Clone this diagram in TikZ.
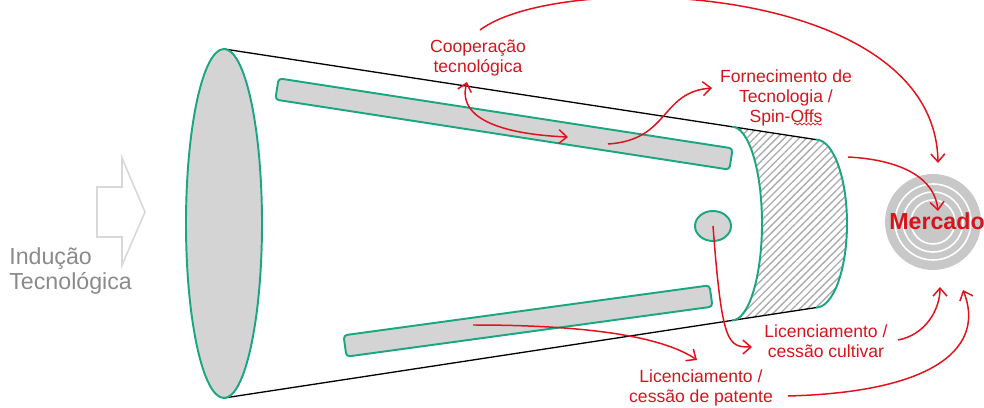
\documentclass[tikz,border=0pt]{standalone}
\usepackage{fontspec}
\setmainfont{Liberation Sans}
\usepackage{tikz}
\usetikzlibrary{arrows.meta,patterns.meta,decorations.pathmorphing,shapes.geometric}
\definecolor{conegreen}{RGB}{26,166,126}
\definecolor{conegray}{RGB}{212,212,212}
\definecolor{flowred}{RGB}{226,18,28}
\definecolor{labelred}{RGB}{214,20,28}
\definecolor{ringgray}{RGB}{200,200,200}
\definecolor{hatchgray}{RGB}{170,170,170}
\definecolor{softgray}{RGB}{138,138,138}
\definecolor{arrowgray}{RGB}{216,216,216}
\tikzset{
  face-line/.style={draw=conegreen, line width=1.1pt},
  cone-edge/.style={draw=black, line width=0.75pt},
  bar-node/.style={face-line, fill=conegray, rounded corners=2pt, inner sep=0pt,
    minimum height=0.43cm},
  flow-label/.style={font=\fontsize{10}{11.3}\selectfont, text=labelred, align=center,
    inner sep=1pt},
  flow-arrow/.style={-{Straight Barb[length=1.6mm, width=2.8mm]}, draw=flowred, line width=0.85pt},
  both-arrow/.style={{Straight Barb[length=1.6mm, width=2.8mm]}-{Straight Barb[length=1.6mm, width=2.8mm]},
    draw=flowred, line width=0.85pt}
}

\begin{document}
\begin{tikzpicture}[x=0.02cm, y=-0.02cm]
\useasboundingbox (0,0) rectangle (984,408);
% hollow arrow feeding the cone
\draw[draw=arrowgray, line width=0.9pt] (97,187) -- (122,187) -- (122,158) -- (145,212)
  -- (122,265) -- (122,237) -- (97,237) -- cycle;
\node[anchor=west, align=left, text=softgray, font=\fontsize{13.2}{13.8}\selectfont, inner sep=0pt]
  (inducao) at (9,271) {Indução\\Tecnológica};
% hatched band at the narrow end
\fill[pattern={Lines[angle=45, distance=3pt, line width=0.75pt]}, pattern color=hatchgray]
  (732,126.8) arc[start angle=-90, end angle=90, x radius=30, y radius=96.8]
  -- (816,307.6) arc[start angle=90, end angle=-90, x radius=31, y radius=84] -- cycle;
% cone outline
\draw[cone-edge] (224,49) -- (816,139.6);
\draw[cone-edge] (224,398) -- (816,307.6);
\draw[face-line] (732,126.8) arc[start angle=-90, end angle=90, x radius=30, y radius=96.8];
\draw[face-line] (816,139.6) arc[start angle=-90, end angle=90, x radius=31, y radius=84];
\draw[face-line, fill=conegray] (224,223.5) ellipse[x radius=38, y radius=174.5];
% inner pieces
\node[bar-node, minimum width=9.19cm, rotate=-8.77] (topbar) at (504,124) {};
\node[bar-node, minimum width=7.39cm, rotate=7.78] (lowbar) at (528,321) {};
\node[ellipse, face-line, fill=conegray, minimum width=0.72cm, minimum height=0.6cm, inner sep=0pt]
  (cultivar) at (713,226) {};
% market target
\node[circle, fill=ringgray, minimum size=1.92cm, inner sep=0pt] (market) at (933,222) {};
\foreach \r in {38,30,22}
  \draw[white, line width=0.9pt] (market.center) circle[radius=\r];
\node[font=\fontsize{13.2}{14}\selectfont\bfseries, text=labelred, inner sep=0pt]
  (mercado) at (937,221) {Mercado};
% labels
\node[flow-label] (coop) at (478,58) {Cooperação\\tecnológica};
\node[flow-label] (fornec) at (786,98) {Fornecimento de\\Tecnologia /\\Spin-Offs};
\node[flow-label] (liccult) at (826,341) {Licenciamento /\\cessão cultivar};
\node[flow-label] (licpat) at (701,388) {Licenciamento /\\cessão de patente};
\draw[flowred, line width=0.4pt, decorate, decoration={snake, amplitude=0.6pt, segment length=2.5pt}]
  (794,124) -- (822,124);
% arrow ends
\coordinate (coopTop) at (480,30);
\coordinate (coopLow) at (467,82);
\coordinate (topbarIn) at (568,137);
\coordinate (topbarOut) at (608,144);
\coordinate (fornecIn) at (712,88);
\coordinate (outletRim) at (848,157);
\coordinate (liccultIn) at (752,347);
\coordinate (liccultOut) at (898,340);
\coordinate (lowbarOut) at (473,325);
\coordinate (licpatIn) at (697,360);
\coordinate (licpatOut) at (788,396);
\coordinate (mkN) at (938,163);
\coordinate (mkC) at (938,211);
\coordinate (mkS) at (940,287);
\coordinate (mkSE) at (963,290);
% flows
\draw[flow-arrow] (coopTop) .. controls +(80,-60) and +(-3,-182) .. (mkN);
\draw[both-arrow] (coopLow) .. controls +(-12,43) and +(-48,-2) .. (topbarIn);
\draw[flow-arrow] (topbarOut) .. controls +(62,-4) and +(-52,4) .. (fornecIn);
\draw[flow-arrow] (outletRim) .. controls +(57,3) and +(-3,-31) .. (mkC);
\draw[flow-arrow] (cultivar.center) .. controls +(9,119) and +(-24,0) .. (liccultIn);
\draw[flow-arrow] (lowbarOut) .. controls +(107,0) and +(-37,-25) .. (licpatIn);
\draw[flow-arrow] (liccultOut) .. controls +(27,-5) and +(0,23) .. (mkS);
\draw[flow-arrow] (licpatOut) .. controls +(152,-4) and +(22,55) .. (mkSE);
\end{tikzpicture}
\end{document}
